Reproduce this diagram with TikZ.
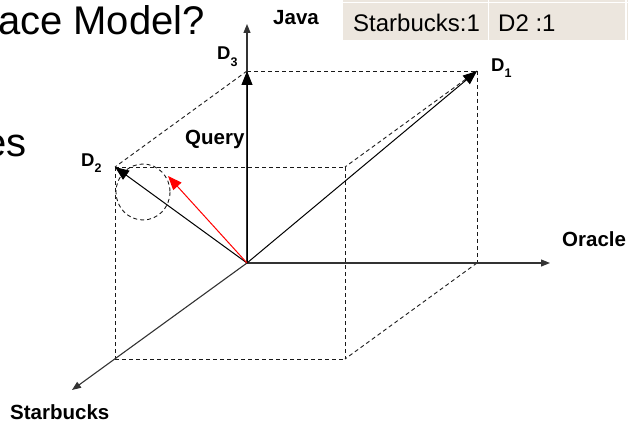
\documentclass[tikz,border=0pt]{standalone}
\usepackage{fontspec}
\setmainfont{Liberation Sans}
\usetikzlibrary{arrows.meta}
\definecolor{cellbg}{RGB}{236,230,222}
\begin{document}
\begin{tikzpicture}[x=1pt,y=-1pt,
  dashedge/.style={draw=black!90, line width=0.9pt, dash pattern=on 4pt off 3pt},
  axis/.style={draw=black!80, line width=1.1pt, -{Triangle[length=9pt,width=7pt]}},
  vec/.style={draw=black, line width=1pt, -{Triangle[length=14pt,width=11pt]}},
  qvec/.style={draw=red, line width=1pt, -{Triangle[length=14pt,width=11pt]}},
  axlabel/.style={font=\bfseries\fontsize{20.5}{24}\selectfont, inner sep=0pt, anchor=base west},
  dlabel/.style={font=\bfseries\fontsize{18.5}{20}\selectfont, inner sep=0pt, anchor=base west},
  celltext/.style={font=\fontsize{24}{28}\selectfont, inner sep=0pt, anchor=base west},
  bigtext/.style={font=\fontsize{40}{48}\selectfont, inner sep=0pt, anchor=base east}]
\useasboundingbox (0,0) rectangle (628,422);
% table
\fill[cellbg] (343,0) rectangle (628,40);
\draw[white, line width=1pt] (343,3) -- (628,3);
\draw[white, line width=1.2pt] (488.5,0) -- (488.5,40);
\draw[white, line width=1.2pt] (626,0) -- (626,40);
\node[celltext] (c1) at (353,32) {Starbucks:1};
\node[celltext] (c2) at (498,32) {D2 :1};
% slide fragments
\node[bigtext] (title) at (205,35) {ace Model?};
\node[bigtext] (frag) at (27,157) {es};
% points
\coordinate (O) at (247,263);
\coordinate (D3) at (247,71);
\coordinate (D1) at (477,71);
\coordinate (B) at (477,263);
\coordinate (D2) at (115,167);
\coordinate (FTR) at (345,167);
\coordinate (FBL) at (115,359);
\coordinate (FBR) at (345,359);
\coordinate (JavaTip) at (247,24);
\coordinate (OracleTip) at (550,263);
\coordinate (StarTip) at (72,390);
\coordinate (Q) at (168,176);
% dashed cube
\draw[dashedge] (D3) -- (D1);
\draw[dashedge] (D1) -- (B);
\draw[dashedge] (D3) -- (D2);
\draw[dashedge] (D1) -- (FTR);
\draw[dashedge] (B) -- (FBR);
\draw[dashedge] (D2) -- (FTR);
\draw[dashedge] (D2) -- (FBL);
\draw[dashedge] (FBL) -- (FBR);
\draw[dashedge] (FTR) -- (FBR);
\draw[dashedge] (143,192) ellipse [x radius=27, y radius=28];
% axes
\draw[axis] (O) -- (JavaTip);
\draw[axis] (O) -- (OracleTip);
\draw[axis] (O) -- (StarTip);
% vectors
\draw[vec] (O) -- (D1);
\draw[vec] (O) -- (D2);
\draw[vec] (O) -- (D3);
\draw[qvec] (O) -- (Q);
% labels
\node[axlabel] (java) at (273,25) {Java};
\node[axlabel] (query) at (185,145) {Query};
\node[axlabel] (oracle) at (562,246) {Oracle};
\node[axlabel] (starbucks) at (10,419) {Starbucks};
\node[dlabel] (d3l) at (217,60) {D\raisebox{-6.5pt}{\fontsize{12.5}{12}\selectfont 3}};
\node[dlabel] (d1l) at (491,72) {D\raisebox{-5.5pt}{\fontsize{12.5}{12}\selectfont 1}};
\node[dlabel] (d2l) at (81,167) {D\raisebox{-5.5pt}{\fontsize{12.5}{12}\selectfont 2}};
\end{tikzpicture}
\end{document}
